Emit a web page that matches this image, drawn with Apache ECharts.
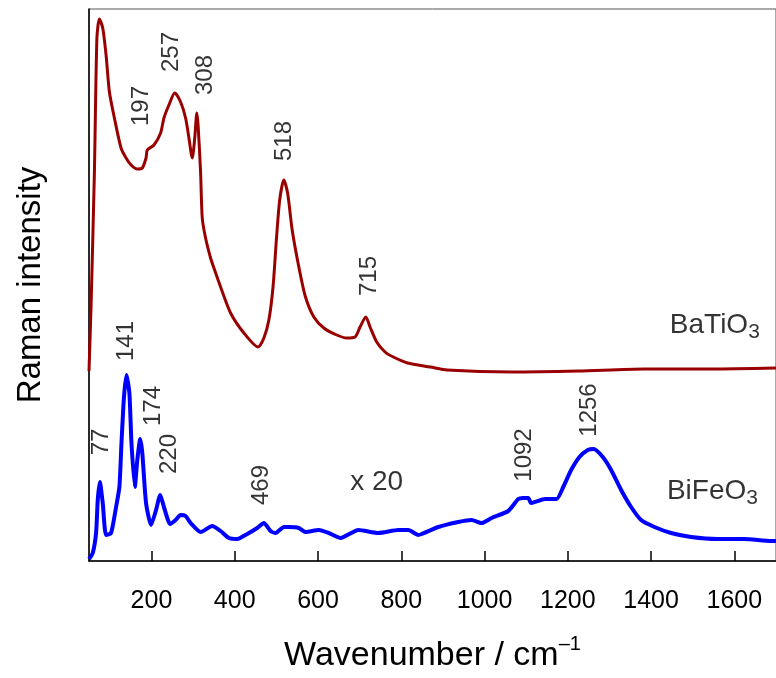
<!DOCTYPE html>
<html>
<head>
<meta charset="utf-8">
<script src="https://cdn.jsdelivr.net/npm/echarts@6/dist/echarts.min.js"></script>
<style>
  html, body { margin: 0; padding: 0; background: #fff; }
  #chart { width: 776px; height: 678px; }
</style>
</head>
<body>
<div id="chart"></div>
<script>
// BaTiO3 spectrum (wavenumber, arbitrary intensity, offset above BiFeO3)
var batioX = [50, 55, 63, 69, 75, 83, 91, 99, 111, 127, 139, 151, 166, 178, 187, 190, 206, 222, 230, 242, 256, 270, 282, 290, 298, 304, 309, 312, 318, 322, 330, 342, 350, 366, 390, 422, 456, 470, 482, 492, 500, 508, 518, 527, 538, 554, 570, 590, 614, 645, 669, 689, 701, 715, 725, 741, 761, 781, 815, 870, 910, 1065, 1226, 1384, 1544, 1700];
var batioY = [190, 256, 389, 523, 542, 533, 506, 469, 443, 413, 403, 396, 392, 393, 403, 411, 416, 428, 443, 456, 468, 459, 443, 423, 403, 423, 448, 436, 389, 343, 323, 303, 293, 274, 248, 228, 214, 223, 241, 274, 321, 361, 381, 368, 331, 294, 264, 244, 233, 226, 223, 224, 234, 244, 234, 219, 209, 204, 198, 194, 191, 189, 190, 192, 192, 193];

// BiFeO3 spectrum (x 20)
var bifeoX = [50, 59, 67, 71, 76, 83, 91, 103, 115, 123, 128, 134, 140, 147, 152, 160, 166, 173, 178, 187, 199, 211, 221, 230, 245, 258, 270, 282, 294, 318, 346, 366, 386, 406, 430, 454, 470, 486, 498, 518, 530, 554, 570, 602, 626, 654, 697, 745, 793, 817, 841, 849, 889, 937, 969, 993, 1017, 1057, 1081, 1092, 1105, 1112, 1145, 1173, 1189, 1208, 1228, 1248, 1262, 1284, 1304, 1328, 1352, 1376, 1408, 1448, 1496, 1560, 1624, 1688, 1700];
var bifeoY = [2, 8, 28, 61, 79, 58, 26, 28, 54, 74, 118, 164, 186, 168, 118, 74, 101, 122, 108, 58, 36, 51, 66, 54, 37, 41, 46, 45, 38, 29, 35, 30, 23, 22, 27, 33, 38, 30, 28, 34, 34, 33, 29, 31, 28, 23, 31, 28, 31, 31, 26, 27, 34, 39, 41, 38, 43, 50, 62, 63, 63, 58, 62, 62, 74, 91, 104, 111, 112, 104, 91, 71, 54, 41, 34, 28, 24, 22, 22, 20, 20];

// peak labels (rotated)
var peakText = ['197', '257', '308', '518', '715', '77', '141', '174', '220', '469', '1092', '1256'];
var peakX = [175, 248, 330, 520, 723, 80, 139, 204, 244, 464, 1096, 1251];
var peakY = [455, 509, 486, 420, 285, 119, 220, 155, 107, 76, 106, 151];

var xTicks = [200, 400, 600, 800, 1000, 1200, 1400, 1600];

function pairs(xs, ys) {
  return xs.map(function (x, i) { return [x, ys[i]]; });
}

var font = 'Liberation Sans, Arial, sans-serif';
var chart = echarts.init(document.getElementById('chart'));

var option = {
  animation: false,
  grid: {
    left: 89, top: 9, width: 689, bottom: 117,
    show: true, borderColor: '#555', borderWidth: 1
  },
  xAxis: {
    type: 'value', min: 50, max: 1700,
    name: 'Wavenumber / cm{sup|\u20131}',
    nameLocation: 'middle', nameGap: 73,
    nameTextStyle: {
      fontFamily: font, fontSize: 34, color: '#000',
      rich: { sup: { fontFamily: font, fontSize: 20, color: '#000', padding: [0, 0, 24, 0] } }
    },
    axisLine: { lineStyle: { color: '#000', width: 1.5 } },
    axisTick: { inside: true, length: 10, customValues: xTicks, lineStyle: { color: '#000', width: 1.5 } },
    axisLabel: {
      customValues: xTicks, margin: 28, fontFamily: font, fontSize: 25, color: '#000',
      formatter: function (v) { return String(v); }
    },
    splitLine: { show: false }
  },
  yAxis: {
    type: 'value', min: 0, max: 552,
    name: 'Raman intensity',
    nameLocation: 'middle', nameGap: 42,
    nameTextStyle: { fontFamily: font, fontSize: 33, color: '#000' },
    axisLine: { show: true, lineStyle: { color: '#000', width: 1.5 } },
    axisTick: { show: false },
    axisLabel: { show: false },
    splitLine: { show: false }
  },
  series: [
    {
      type: 'line', name: 'BaTiO3', data: pairs(batioX, batioY),
      showSymbol: false, smooth: 0.25,
      lineStyle: { color: '#990000', width: 3 }
    },
    {
      type: 'line', name: 'BiFeO3', data: pairs(bifeoX, bifeoY),
      showSymbol: false, smooth: 0.2,
      lineStyle: { color: '#0000ff', width: 4 }
    },
    {
      type: 'scatter', symbolSize: 0, silent: true,
      data: peakX.map(function (x, i) { return { value: [x, peakY[i]], name: peakText[i] }; }),
      label: {
        show: true, position: 'inside', rotate: 90, formatter: '{b}',
        fontFamily: font, fontSize: 24, color: '#000', textBorderWidth: 0
      }
    },
    {
      type: 'scatter', symbolSize: 0, silent: true,
      data: [
        { value: [1445, 236], name: 'BaTiO' },
        { value: [1438, 70], name: 'BiFeO' },
        { value: [741, 79], name: 'x 20', label: { position: 'inside', formatter: '{a|x 20}' } }
      ],
      label: {
        show: true, position: 'right', distance: 0, textBorderWidth: 0,
        formatter: '{a|{b}}{s|3}',
        rich: {
          a: { fontFamily: font, fontSize: 28, color: '#000', lineHeight: 36, textBorderWidth: 0 },
          s: { fontFamily: font, fontSize: 21, color: '#000', lineHeight: 14, verticalAlign: 'bottom', textBorderWidth: 0 }
        }
      }
    }
  ]
};
chart.setOption(option);
</script>
</body>
</html>
